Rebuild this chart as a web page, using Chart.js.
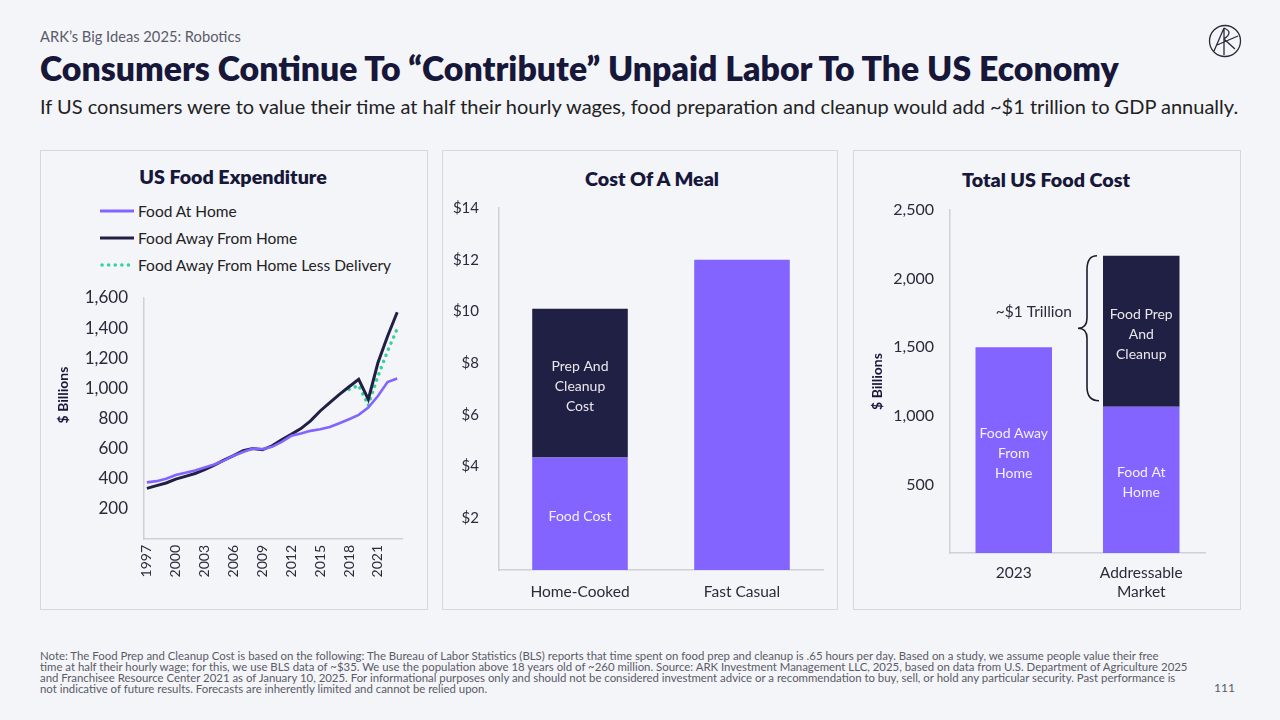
<!DOCTYPE html>
<html>
<head>
<meta charset="utf-8">
<script src="https://cdn.jsdelivr.net/npm/chart.js@4.4.1/dist/chart.umd.min.js"></script>
<style>
  body { margin: 0; width: 1280px; height: 720px; background: #f4f5f9; font-family: Lato, "Noto Sans", sans-serif; color: #1c1c3a; position: relative; overflow: hidden; }
  .abs { position: absolute; }
  #kicker { left: 40px; top: 27px; font-size: 14.7px; color: #5b5b68; }
  #title { left: 40px; top: 48px; font-size: 33.8px; font-weight: 800; color: #17173a; white-space: nowrap; }
  #sub { left: 40px; top: 94px; font-size: 20px; color: #222; white-space: nowrap; }
  .panel { position: absolute; top: 150px; height: 458px; border: 1px solid #d6d7de; background: #f4f5f9; }
  .ptitle { position: absolute; font-size: 19.7px; font-weight: 800; color: #17173a; text-align: center; white-space: nowrap; }
  .box { position: absolute; }
  #legend { left: 100px; top: 197px; font-size: 15.5px; color: #222; }
  #legend div { height: 27px; display: flex; align-items: center; }
  #legend svg { margin-right: 4px; }
  #note { left: 40px; top: 650px; font-size: 11.4px; line-height: 11px; color: #5a5a66; white-space: nowrap; }
  #page { left: 1214px; top: 680px; font-size: 12px; color: #5a5a66; }
</style>
</head>
<body>
<div id="kicker" class="abs">ARK’s Big Ideas 2025: Robotics</div>
<div id="title" class="abs">Consumers Continue To “Contribute” Unpaid Labor To The US Economy</div>
<div id="sub" class="abs">If US consumers were to value their time at half their hourly wages, food preparation and cleanup would add ~$1 trillion to GDP annually.</div>
<svg class="abs" style="left:1208px;top:24px" width="34" height="34" viewBox="0 0 34 34">
  <g fill="none" stroke="#2a2a3a" stroke-width="1.3">
    <circle cx="17" cy="17" r="15.5"/>
    <path d="M6 27 L16 4 L16 31 M16 4 Q26 8 16 15 L27 25 M9 21 L30 12"/>
  </g>
</svg>

<div class="panel" style="left:40px;width:386px"></div>
<div class="panel" style="left:442px;width:394px"></div>
<div class="panel" style="left:853px;width:386px"></div>

<div class="ptitle" style="left:40px;width:386px;top:165px">US Food Expenditure</div>
<div class="ptitle" style="left:552px;width:200px;top:167px">Cost Of A Meal</div>
<div class="ptitle" style="left:946px;width:200px;top:168px">Total US Food Cost</div>

<div id="legend" class="abs"></div>

<div class="box" style="left:48px;top:285px;width:372px;height:315px"><canvas id="c1"></canvas></div>
<div class="box" style="left:450px;top:195px;width:380px;height:410px"><canvas id="c2"></canvas></div>
<div class="box" style="left:860px;top:197px;width:372px;height:408px"><canvas id="c3"></canvas></div>

<div id="note" class="abs">Note: The Food Prep and Cleanup Cost is based on the following: The Bureau of Labor Statistics (BLS) reports that time spent on food prep and cleanup is .65 hours per day. Based on a study, we assume people value their free<br>time at half their hourly wage; for this, we use BLS data of ~$35. We use the population above 18 years old of ~260 million. Source: ARK Investment Management LLC, 2025, based on data from U.S. Department of Agriculture 2025<br>and Franchisee Resource Center 2021 as of January 10, 2025. For informational purposes only and should not be considered investment advice or a recommendation to buy, sell, or hold any particular security. Past performance is<br>not indicative of future results. Forecasts are inherently limited and cannot be relied upon.</div>
<div id="page" class="abs">111</div>

<script>
// ---- data ----
var years = [1997,1998,1999,2000,2001,2002,2003,2004,2005,2006,2007,2008,2009,2010,2011,2012,2013,2014,2015,2016,2017,2018,2019,2020,2021,2022,2023];
var foodAtHome = [376,384,400,425,440,455,475,495,520,553,578,601,597,612,645,685,700,718,729,744,769,795,824,872,949,1042,1066];
var foodAway = [336,354,372,398,416,435,460,491,524,553,586,601,592,619,658,696,733,784,850,905,960,1011,1060,927,1170,1346,1505];
var foodAwayLessDelivery = [null,null,null,null,null,null,null,null,null,null,null,null,null,null,null,null,null,null,null,null,null,993,1020,887,1081,1247,1395];

var mealCats = ['Home-Cooked', 'Fast Casual'];
var mealFood = [4.35, 12];
var mealPrep = [5.75, 0];
var mealSegLabels = [[['Food Cost'], []], [['Prep And', 'Cleanup', 'Cost'], []]];

var totalCats = [['2023'], ['Addressable', 'Market']];
var totalBase = [1500, 1066];
var totalPrep = [0, 1100];
var totalSegLabels = [[['Food Away', 'From', 'Home'], ['Food At', 'Home']], [[], ['Food Prep', 'And', 'Cleanup']]];
var braceLabel = '~$1 Trillion';

var purple = '#8364ff';
var navy = '#201f44';
var green = '#36d399';
var ink = '#2a2a3a';
var axisColor = '#cfd0d8';

Chart.defaults.font.family = 'Lato, "Noto Sans", sans-serif';
Chart.defaults.color = ink;
Chart.defaults.animation = false;
Chart.defaults.responsive = true;
Chart.defaults.maintainAspectRatio = false;
Chart.defaults.plugins.legend.display = false;
Chart.defaults.plugins.tooltip.enabled = false;

// fixed axis sizes; drop the label overflow padding so layout.padding decides the plot top
function fixWidth(w) { return function (s) { s.width = w; s.paddingTop = 0; s.paddingBottom = 0; }; }
function fixHeight(h) { return function (s) { s.height = h; }; }

// text inside bar segments
var segText = {
  id: 'segText',
  afterDatasetsDraw: function (chart, args, opts) {
    var ctx = chart.ctx;
    ctx.save();
    ctx.font = '14px Lato, "Noto Sans", sans-serif';
    ctx.fillStyle = 'rgba(255,255,255,0.9)';
    ctx.textAlign = 'center';
    ctx.textBaseline = 'middle';
    opts.labels.forEach(function (perBar, di) {
      var meta = chart.getDatasetMeta(di);
      perBar.forEach(function (lines, i) {
        if (!lines.length) return;
        var el = meta.data[i];
        var cy = (el.y + el.base) / 2 + 3;
        lines.forEach(function (t, k) {
          ctx.fillText(t, el.x, cy + (k - (lines.length - 1) / 2) * 20);
        });
      });
    });
    ctx.restore();
  }
};

// y axis title placed a bit above the plot middle, as on the slide
var sideTitle = {
  id: 'sideTitle',
  afterDraw: function (chart, args, opts) {
    var ctx = chart.ctx;
    ctx.save();
    ctx.translate(opts.x, opts.y);
    ctx.rotate(-Math.PI / 2);
    ctx.font = 'bold 14px Lato, "Noto Sans", sans-serif';
    ctx.fillStyle = '#17173a';
    ctx.textAlign = 'center';
    ctx.textBaseline = 'middle';
    ctx.fillText(opts.text, 0, 0);
    ctx.restore();
  }
};

// ---- chart 1: line ----
var c1 = new Chart(document.getElementById('c1'), {
  type: 'line',
  data: {
    labels: years,
    datasets: [
      { label: 'Food At Home', data: foodAtHome, borderColor: purple, borderWidth: 2.6, pointRadius: 0, tension: 0 },
      { label: 'Food Away From Home', data: foodAway, borderColor: navy, borderWidth: 3, pointRadius: 0, tension: 0 },
      { label: 'Food Away From Home Less Delivery', data: foodAwayLessDelivery, borderColor: green, borderWidth: 3.5, borderDash: [0.1, 6.5], borderCapStyle: 'round', pointRadius: 0, tension: 0 }
    ]
  },
  plugins: [sideTitle],
  options: {
    layout: { padding: { top: 13, right: 18 } },
    plugins: { sideTitle: { text: '$ Billions', x: 15, y: 110 } },
    scales: {
      x: {
        type: 'linear', min: 1996.7, max: 2023.5,
        afterBuildTicks: function (s) { s.ticks = years.filter(function (y) { return (y - 1997) % 3 === 0; }).map(function (y) { return { value: y }; }); },
        afterFit: fixHeight(61),
        grid: { display: false, drawTicks: false },
        border: { display: true, color: axisColor, width: 1.5 },
        ticks: { minRotation: 90, maxRotation: 90, padding: 6, font: { size: 14 }, color: ink, callback: function (v) { return String(v); } }
      },
      y: {
        min: 0, max: 1600,
        afterFit: fixWidth(96),
        grid: { display: false, drawTicks: false },
        border: { display: true, color: axisColor, width: 1.5 },
        ticks: { stepSize: 200, padding: 16, font: { size: 17 }, color: ink, callback: function (v) { return v === 0 ? '' : v.toLocaleString('en-US'); } }
      }
    }
  }
});

// html legend from datasets
var lg = document.getElementById('legend');
c1.data.datasets.forEach(function (ds) {
  var row = document.createElement('div');
  var dash = ds.borderDash ? ' stroke-dasharray="0.1 6.5" stroke-linecap="round"' : '';
  var sw = ds.borderDash ? 3.5 : 3;
  row.innerHTML = '<svg width="34" height="6"><line x1="' + (ds.borderDash ? 2 : 0) + '" y1="3" x2="34" y2="3" stroke="' + ds.borderColor + '" stroke-width="' + sw + '"' + dash + '/></svg><span>' + ds.label + '</span>';
  lg.appendChild(row);
});

// ---- chart 2: cost of a meal ----
new Chart(document.getElementById('c2'), {
  type: 'bar',
  data: {
    labels: mealCats,
    datasets: [
      { label: 'Food Cost', data: mealFood, backgroundColor: purple },
      { label: 'Prep And Cleanup Cost', data: mealPrep, backgroundColor: navy }
    ]
  },
  plugins: [segText],
  options: {
    layout: { padding: { top: 13, right: 7 } },
    datasets: { bar: { barPercentage: 0.59, categoryPercentage: 1 } },
    plugins: { segText: { labels: mealSegLabels } },
    scales: {
      x: {
        stacked: true,
        afterFit: fixHeight(35),
        grid: { display: false, drawTicks: false },
        border: { display: true, color: axisColor, width: 1.5 },
        ticks: { padding: 13, font: { size: 15.5 }, color: ink }
      },
      y: {
        stacked: true, min: 0, max: 14,
        afterFit: fixWidth(49),
        grid: { display: false, drawTicks: false },
        border: { display: true, color: axisColor, width: 1.5 },
        ticks: { stepSize: 2, padding: 20, font: { size: 15 }, color: ink, callback: function (v) { return v === 0 ? '' : '$' + v; } }
      }
    }
  }
});

// curly brace next to the added segment
var brace = {
  id: 'brace',
  afterDatasetsDraw: function (chart) {
    var el = chart.getDatasetMeta(1).data[1];
    var ctx = chart.ctx;
    var x0 = el.x - el.width / 2 - 16;
    var yT = el.y, yB = el.base - 6, yM = (yT + yB) / 2;
    ctx.save();
    ctx.strokeStyle = '#1c1c2c';
    ctx.lineWidth = 1.6;
    ctx.beginPath();
    ctx.moveTo(x0 + 10, yT);
    ctx.quadraticCurveTo(x0, yT, x0, yT + 14);
    ctx.lineTo(x0, yM - 10);
    ctx.quadraticCurveTo(x0, yM, x0 - 9, yM);
    ctx.quadraticCurveTo(x0, yM, x0, yM + 10);
    ctx.lineTo(x0, yB - 14);
    ctx.quadraticCurveTo(x0, yB, x0 + 12, yB);
    ctx.stroke();
    ctx.font = '15.5px Lato, "Noto Sans", sans-serif';
    ctx.fillStyle = ink;
    ctx.textAlign = 'right';
    ctx.textBaseline = 'middle';
    ctx.fillText(braceLabel, x0 - 15, yM - 16);
    ctx.restore();
  }
};

// ---- chart 3: total us food cost ----
new Chart(document.getElementById('c3'), {
  type: 'bar',
  data: {
    labels: totalCats,
    datasets: [
      { label: 'Food', data: totalBase, backgroundColor: purple },
      { label: 'Food Prep And Cleanup', data: totalPrep, backgroundColor: navy }
    ]
  },
  plugins: [segText, brace],
  options: {
    layout: { padding: { top: 13, right: 27 } },
    datasets: { bar: { barPercentage: 0.6, categoryPercentage: 1 } },
    plugins: { segText: { labels: totalSegLabels } },
    scales: {
      x: {
        stacked: true,
        afterFit: fixHeight(52),
        grid: { display: false, drawTicks: false },
        border: { display: true, color: axisColor, width: 1.5 },
        ticks: { padding: 11, font: { size: 15.5 }, color: ink }
      },
      y: {
        stacked: true, min: 0, max: 2500,
        afterFit: fixWidth(90),
        grid: { display: false, drawTicks: false },
        border: { display: true, color: axisColor, width: 1.5 },
        title: { display: true, text: '$ Billions', font: { size: 14, weight: 'bold' }, color: '#17173a', padding: { top: 9, bottom: 0 } },
        ticks: { stepSize: 500, padding: 16, font: { size: 16 }, color: ink, callback: function (v) { return v === 0 ? '' : v.toLocaleString('en-US'); } }
      }
    }
  }
});
</script>
</body>
</html>
